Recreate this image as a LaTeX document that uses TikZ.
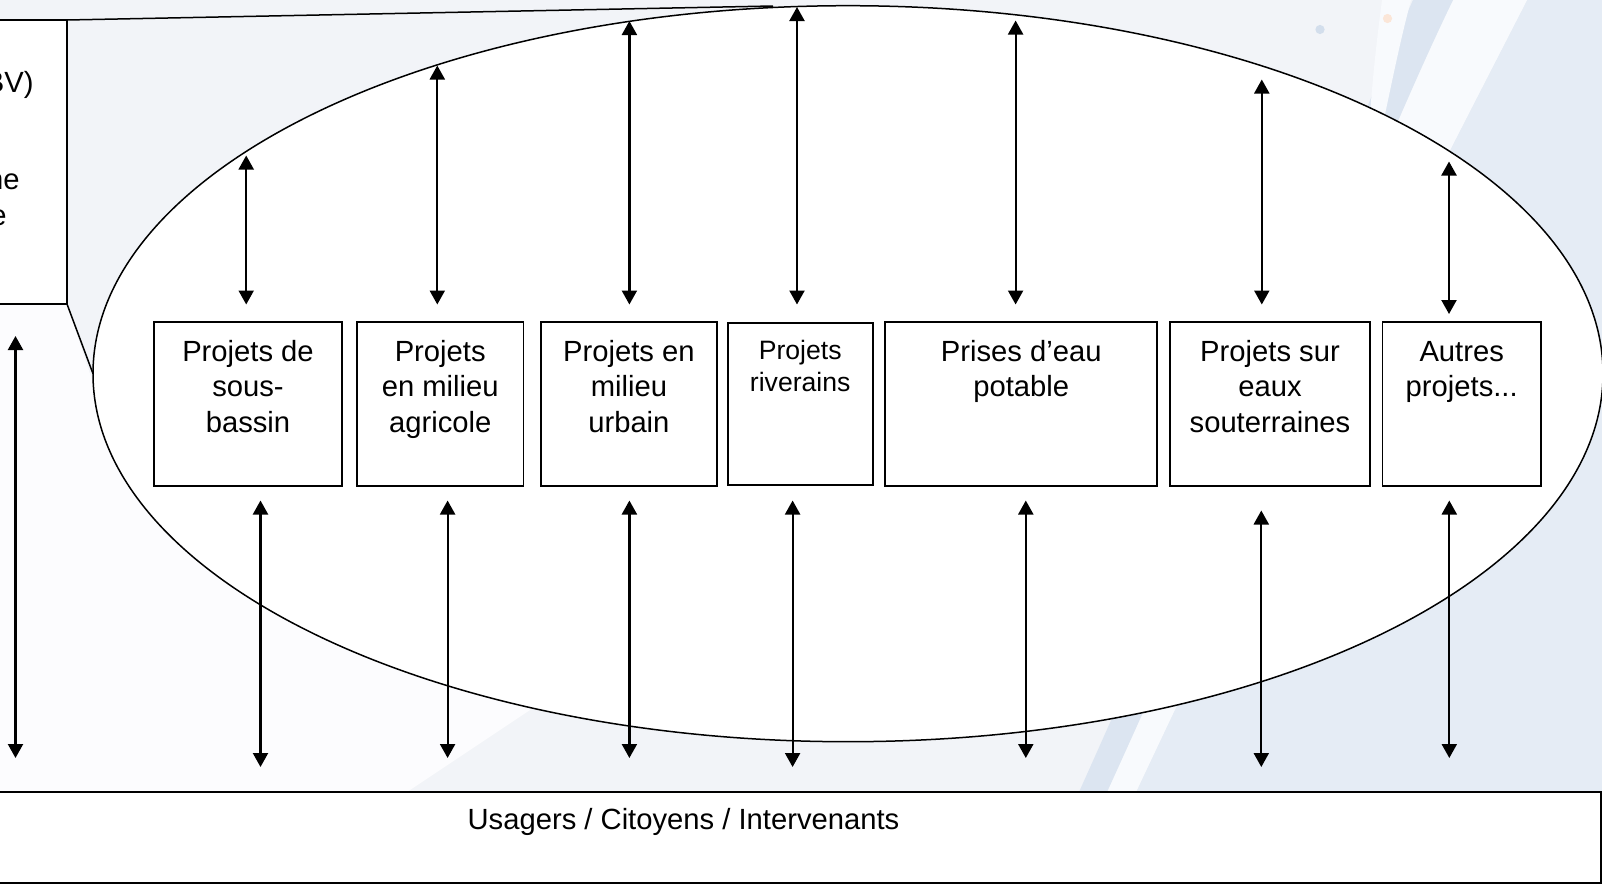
\documentclass[tikz,border=0pt]{standalone}
\usepackage{fontspec}
\setmainfont{Liberation Sans}
\usetikzlibrary{arrows.meta,shapes.geometric}
\definecolor{bgbase}{HTML}{F2F4F8}
\definecolor{bgwhite}{HTML}{FCFCFE}
\definecolor{bgright}{HTML}{E5ECF5}
\definecolor{bgband}{HTML}{DCE5F1}
\definecolor{bgstripe}{HTML}{F8FAFD}
\definecolor{dotblue}{HTML}{D3DEEC}
\definecolor{dotorange}{HTML}{FBE6D8}
\newcommand\fmain{\fontsize{14.6pt}{17.75pt}\selectfont}
\newcommand\fsmall{\fontsize{13.3pt}{16.25pt}\selectfont}
\begin{document}
\begin{tikzpicture}[x=0.5pt,y=-0.5pt,
  pbox/.style={draw, fill=white, line width=0.85pt, inner sep=0pt, outer sep=0pt, minimum height=82pt},
  ptext/.style={anchor=base, inner sep=0pt, font=\fmain},
  stext/.style={anchor=base, inner sep=0pt, font=\fsmall},
  cline/.style={line width=0.75pt},
  biarrow/.style={{Triangle[length=7pt,width=7.5pt]}-{Triangle[length=7pt,width=7.5pt]}, line width=1.1pt}]
\useasboundingbox (0,0) rectangle (1602,884);
% background
\fill[bgbase] (0,0) rectangle (1602,884);
\fill[bgwhite] (0,304) -- (67,304) -- (93,383) -- (560,690) -- (407,792) -- (0,792) -- cycle;
\fill[bgright] (1136,792) .. controls (1330,380) and (1440,170) .. (1527,0) -- (1602,0) -- (1602,792) -- cycle;
\fill[bgstripe] (1107,792) .. controls (1290,390) and (1380,150) .. (1453,0) -- (1527,0) .. controls (1440,170) and (1330,380) .. (1136,792) -- cycle;
\fill[bgband] (1079,792) .. controls (1260,390) and (1345,150) .. (1413,0) -- (1453,0) .. controls (1380,150) and (1290,390) .. (1107,792) -- cycle;
\fill[bgstripe] (1382,0) -- (1411,0) .. controls (1395,60) and (1385,120) .. (1366,200) .. controls (1368,120) and (1374,60) .. cycle;
\fill[dotblue] (1320,29.5) circle [radius=2.3pt];
\fill[dotorange] (1387.5,18.5) circle [radius=2.3pt];
% ellipse
\node[ellipse, draw, fill=white, line width=0.75pt, inner sep=0pt, outer sep=0pt,
      minimum width=755pt, minimum height=368pt] (ell) at (848,373.7) {};
% left box
\node[draw, fill=white, line width=0.85pt, inner sep=0pt, outer sep=0pt,
      minimum width=83.5pt, minimum height=142pt] (lb) at (-16.5,162) {};
\node[anchor=base east, inner sep=0pt, font=\fmain] (lt1) at (34,92) {BV)};
\node[anchor=base east, inner sep=0pt, font=\fmain] (lt2) at (20,189.5) {ne};
\node[anchor=base east, inner sep=0pt, font=\fmain] (lt3) at (7,225) {e};
% callout lines
\coordinate (etop) at (773,6);
\draw[cline] (lb.north east) -- (etop);
\draw[cline] (lb.south east) -- (ell.west);
% project boxes
\node[pbox, minimum width=94pt] (b1) at (248,404) {};
\node[pbox, minimum width=83.15pt] (b2) at (440.2,404) {};
\node[pbox, minimum width=87.85pt] (b3) at (628.9,404) {};
\node[pbox, minimum width=72.5pt, minimum height=81pt] (b4) at (800.2,404) {};
\node[pbox, minimum width=136pt] (b5) at (1021.3,404) {};
\node[pbox, minimum width=100pt] (b6) at (1270,404) {};
\node[pbox, minimum width=79.35pt] (b7) at (1461.7,404) {};
% texts
\node[ptext] (t1a) at (248,361) {Projets de};
\node[ptext] (t1b) at (248,396.5) {sous-};
\node[ptext] (t1c) at (248,432) {bassin};
\node[ptext] (t2a) at (440.2,361) {Projets};
\node[ptext] (t2b) at (440.2,396.5) {en milieu};
\node[ptext] (t2c) at (440.2,432) {agricole};
\node[ptext] (t3a) at (628.9,361) {Projets en};
\node[ptext] (t3b) at (628.9,396.5) {milieu};
\node[ptext] (t3c) at (628.9,432) {urbain};
\node[stext] (t4a) at (800.2,359) {Projets};
\node[stext] (t4b) at (800.2,391.5) {riverains};
\node[ptext] (t5a) at (1021.3,361) {Prises d’eau};
\node[ptext] (t5b) at (1021.3,396.5) {potable};
\node[ptext] (t6a) at (1270,361) {Projets sur};
\node[ptext] (t6b) at (1270,396.5) {eaux};
\node[ptext] (t6c) at (1270,432) {souterraines};
\node[ptext] (t7a) at (1461.7,361) {Autres};
\node[ptext] (t7b) at (1461.7,396.5) {projets...};
% bottom box
\node[draw, fill=white, line width=1pt, inner sep=0pt, outer sep=0pt,
      minimum width=821pt, minimum height=45.75pt] (ub) at (780,837.25) {};
\node[ptext] (ut) at (683.5,829) {Usagers / Citoyens / Intervenants};
% arrow end points
\coordinate (a1t) at (246.2,155.5); \coordinate (a1b) at (246.2,304.5);
\coordinate (a2t) at (437.3,65.5);  \coordinate (a2b) at (437.3,304.5);
\coordinate (a3t) at (629.4,21);    \coordinate (a3b) at (629.4,304.5);
\coordinate (a4t) at (797,7);       \coordinate (a4b) at (797,304.5);
\coordinate (a5t) at (1015.6,20.5); \coordinate (a5b) at (1015.6,304.5);
\coordinate (a6t) at (1261.8,79.5); \coordinate (a6b) at (1261.8,304.5);
\coordinate (a7t) at (1449,161.5);  \coordinate (a7b) at (1449,314);
\coordinate (c0t) at (15.5,336);    \coordinate (c0b) at (15.5,758);
\coordinate (c1t) at (260.5,500.5); \coordinate (c1b) at (260.5,767);
\coordinate (c2t) at (447.6,500.5); \coordinate (c2b) at (447.6,758);
\coordinate (c3t) at (629.4,500.5); \coordinate (c3b) at (629.4,758);
\coordinate (c4t) at (792.6,500.5); \coordinate (c4b) at (792.6,767);
\coordinate (c5t) at (1025.8,500.5);\coordinate (c5b) at (1025.8,758);
\coordinate (c6t) at (1261.3,510.5);\coordinate (c6b) at (1261.3,767);
\coordinate (c7t) at (1449.3,500.5);\coordinate (c7b) at (1449.3,758);
\foreach \n in {a1,a2,a3,a4,a5,a6,a7,c0,c1,c2,c3,c4,c5,c6,c7}
  \draw[biarrow] (\n t) -- (\n b);
\end{tikzpicture}
\end{document}
